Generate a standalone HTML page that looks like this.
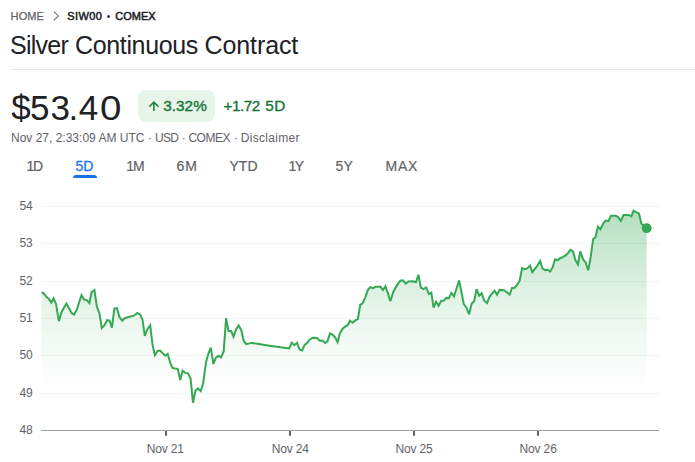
<!DOCTYPE html>
<html><head><meta charset="utf-8">
<style>
html,body{margin:0;padding:0;background:#fff;}
body{width:695px;height:462px;overflow:hidden;position:relative;font-family:"Liberation Sans",sans-serif;color:#202124;}
.abs{position:absolute;white-space:nowrap;}
.price span{position:relative}
.crumb{top:9px;font-size:11px;line-height:14px;color:#5f6368;}
.crumb.b{color:#202124;-webkit-text-stroke:.5px #202124;}
.title{top:29px;font-size:25px;line-height:32px;color:#202124;}
.hr{left:11px;top:69px;width:684px;height:1px;background:#e8eaed;}
.price{left:12px;top:85.6px;font-size:35px;line-height:44px;color:#202124;letter-spacing:.5px}
.pill{left:138px;top:90px;width:77px;height:32px;border-radius:8px;background:#e6f4ea;}
.pct{left:163.2px;letter-spacing:.05px;top:98.1px;font-size:15.3px;line-height:16px;color:#137333;-webkit-text-stroke:.35px #137333;}
.chg{left:224px;letter-spacing:-.15px;top:98.1px;font-size:15.3px;line-height:16px;color:#137333;-webkit-text-stroke:.35px #137333;}
.meta{top:131px;font-size:12px;line-height:14px;color:#5f6368;}
.tab{top:157.6px;font-size:14px;line-height:16px;color:#5f6368;-webkit-text-stroke:.2px #5f6368;}
.ul{left:73px;top:175px;width:24px;height:3px;border-radius:3px 3px 0 0;background:#1a73e8;}
.ylab{left:19.5px;font-size:12px;line-height:14px;color:#5f6368;letter-spacing:-.2px}
.xlab{top:441.6px;width:60px;text-align:center;font-size:12px;line-height:14px;color:#5f6368;letter-spacing:-.15px}
</style></head><body>
<div class="abs crumb" style="left:10.6px;letter-spacing:.1px;-webkit-text-stroke:.25px #5f6368">HOME</div>
<div class="abs crumb b" style="left:67.3px;letter-spacing:.4px">SIW00</div>
<div class="abs crumb b" style="left:106.8px;top:9.8px;font-size:10px;-webkit-text-stroke:0">•</div>
<div class="abs crumb b" style="left:115.3px;letter-spacing:-.02px">COMEX</div>
<div class="abs title" style="left:10px;letter-spacing:-.75px">Silver</div>
<div class="abs title" style="left:75px;letter-spacing:-.35px">Continuous</div>
<div class="abs title" style="left:204.5px;letter-spacing:-.1px">Contract</div>
<div class="abs hr"></div>
<div class="abs price"><span style="left:-.7px">$</span><span style="left:-2px">5</span><span style="left:-1.5px">3</span><span style="left:-3.5px">.</span><span style="left:-3.3px">4</span><span style="left:-1px;display:inline-block;transform:scaleX(1.1)">0</span></div>
<div class="abs pill"></div>
<div class="abs pct">3.32%</div>
<div class="abs chg" style="left:223.5px;letter-spacing:-.5px">+1.72</div>
<div class="abs chg" style="left:265.2px;letter-spacing:.45px">5D</div>
<div class="abs meta" style="left:11px">Nov 27, 2:33:09 AM UTC ·</div>
<div class="abs meta" style="left:155px;letter-spacing:-.7px">USD</div>
<div class="abs meta" style="left:181.8px">·</div>
<div class="abs meta" style="left:188.4px;letter-spacing:-.45px">COMEX</div>
<div class="abs meta" style="left:234px">·</div>
<div class="abs meta" style="left:240.7px;letter-spacing:.32px">Disclaimer</div>
<div class="abs tab" style="left:26.6px;letter-spacing:-1.5px">1D</div>
<div class="abs tab" style="left:75.5px;top:157.9px;color:#1a73e8;-webkit-text-stroke:.3px #1a73e8;letter-spacing:0">5D</div>
<div class="abs ul"></div>
<div class="abs tab" style="left:126.3px;letter-spacing:-1.1px">1M</div>
<div class="abs tab" style="left:176.5px;letter-spacing:1px">6M</div>
<div class="abs tab" style="left:229.5px">YTD</div>
<div class="abs tab" style="left:288.5px;letter-spacing:-1.6px">1Y</div>
<div class="abs tab" style="left:335.5px;letter-spacing:.3px">5Y</div>
<div class="abs tab" style="left:385.5px;letter-spacing:.8px">MAX</div>
<div class="abs ylab" style="top:198.9px">54</div><div class="abs ylab" style="top:235.9px">53</div><div class="abs ylab" style="top:273.9px">52</div><div class="abs ylab" style="top:310.9px">51</div><div class="abs ylab" style="top:347.9px">50</div><div class="abs ylab" style="top:385.9px">49</div><div class="abs ylab" style="top:422.9px">48</div>
<div class="abs xlab" style="left:135.2px">Nov 21</div><div class="abs xlab" style="left:260.2px">Nov 24</div><div class="abs xlab" style="left:384.0px">Nov 25</div><div class="abs xlab" style="left:508.1px">Nov 26</div>
<svg class="abs" style="left:0;top:0" width="695" height="462" viewBox="0 0 695 462">
<defs><linearGradient id="g" gradientUnits="userSpaceOnUse" x1="0" y1="210" x2="0" y2="398">
<stop offset="0" stop-color="#34a853" stop-opacity="0.38"/>
<stop offset="0.13" stop-color="#34a853" stop-opacity="0.305"/>
<stop offset="0.27" stop-color="#34a853" stop-opacity="0.236"/>
<stop offset="0.4" stop-color="#34a853" stop-opacity="0.173"/>
<stop offset="0.53" stop-color="#34a853" stop-opacity="0.118"/>
<stop offset="0.67" stop-color="#34a853" stop-opacity="0.07"/>
<stop offset="0.8" stop-color="#34a853" stop-opacity="0.034"/>
<stop offset="0.93" stop-color="#34a853" stop-opacity="0.01"/>
<stop offset="1" stop-color="#34a853" stop-opacity="0"/>
</linearGradient></defs>
<rect x="41" y="206.0" width="618" height="1" fill="#f3f4f5"/>
<rect x="41" y="243.0" width="618" height="1" fill="#f3f4f5"/>
<rect x="41" y="281.0" width="618" height="1" fill="#f3f4f5"/>
<rect x="41" y="318.0" width="618" height="1" fill="#f3f4f5"/>
<rect x="41" y="355.0" width="618" height="1" fill="#f3f4f5"/>
<rect x="41" y="393.0" width="618" height="1" fill="#f3f4f5"/>
<path d="M41.5,292.4 L43.5,293.1 L46.6,297.1 L48.6,298.6 L51.3,302.6 L53.6,298.4 L56.1,304.2 L58.8,321.1 L61.7,311.7 L64.1,307.4 L66.4,303.5 L69.0,308.3 L71.7,313.2 L74.1,314.7 L76.8,309.7 L79.2,302.3 L81.5,295.1 L84.1,299.6 L86.8,300.1 L89.4,303.1 L91.6,292.1 L94.4,290.1 L96.9,306.7 L99.4,313.2 L101.8,328.0 L104.5,325.2 L107.1,320.2 L109.6,320.7 L111.9,327.7 L114.4,308.6 L116.9,308.1 L119.5,317.1 L122.2,320.7 L124.7,318.2 L134.3,315.4 L137.3,312.9 L140.3,314.6 L142.5,319.7 L144.8,335.8 L147.4,329.2 L150.2,325.2 L152.6,345.1 L154.9,355.2 L157.6,350.9 L160.1,350.6 L162.7,353.2 L165.4,355.7 L167.7,354.0 L170.2,362.7 L172.5,367.8 L175.3,368.6 L177.8,369.1 L180.2,380.1 L182.6,370.8 L185.3,372.9 L188.0,373.3 L190.6,378.6 L193.0,402.8 L195.4,390.7 L198.0,388.4 L200.7,391.2 L203.2,383.1 L206.0,362.2 L208.3,354.0 L210.8,347.7 L213.4,364.0 L215.8,357.8 L218.3,355.8 L221.1,357.3 L223.7,351.2 L226.1,318.1 L228.5,331.1 L231.2,331.1 L233.5,336.6 L236.1,329.1 L238.6,325.4 L241.3,330.1 L243.8,341.2 L246.3,344.2 L251.4,342.9 L269.5,345.7 L289.2,348.5 L291.7,342.7 L294.4,345.2 L297.0,342.7 L299.5,349.5 L302.1,350.5 L304.6,344.9 L307.3,342.7 L309.8,339.4 L312.3,338.0 L314.9,337.7 L317.2,338.2 L319.9,340.7 L322.4,340.5 L325.1,342.9 L327.4,341.5 L330.0,333.5 L332.5,334.7 L335.0,337.2 L337.6,342.3 L339.9,333.3 L342.6,328.7 L345.1,326.5 L347.6,325.2 L350.0,320.7 L352.7,322.7 L355.2,320.4 L357.9,319.1 L360.2,304.9 L362.6,303.3 L365.2,297.6 L367.8,290.1 L370.3,287.1 L372.9,288.1 L375.6,286.8 L380.4,286.8 L383.0,290.1 L385.4,286.3 L387.9,293.4 L390.4,301.3 L393.0,292.7 L395.6,287.6 L398.1,283.6 L400.6,280.6 L403.1,280.6 L405.8,283.6 L408.4,281.4 L413.2,281.3 L415.9,282.3 L418.4,274.8 L420.9,287.6 L423.5,289.1 L426.1,287.4 L428.9,294.1 L431.3,292.6 L433.6,307.7 L436.1,301.7 L438.6,305.7 L441.2,300.7 L443.7,300.7 L446.2,297.9 L448.9,298.2 L451.4,292.9 L454.0,296.4 L456.5,288.5 L459.1,280.5 L461.5,292.3 L463.8,304.2 L466.5,307.7 L469.1,314.3 L471.6,303.7 L474.2,301.0 L476.6,289.1 L479.2,295.7 L481.6,293.4 L484.3,300.7 L487.0,303.0 L489.5,296.8 L492.0,293.7 L494.6,290.7 L497.1,294.8 L499.6,289.9 L504.1,290.2 L509.7,294.5 L512.0,287.9 L514.7,287.7 L517.2,284.7 L519.7,280.7 L522.1,268.1 L524.8,269.1 L527.3,268.4 L530.0,265.6 L532.3,272.1 L537.4,265.6 L540.1,261.0 L542.6,268.6 L545.1,270.1 L547.6,269.8 L550.2,271.6 L552.6,267.4 L555.1,259.2 L557.8,260.2 L560.3,258.0 L562.9,257.2 L565.3,255.7 L567.9,253.2 L570.4,249.8 L573.0,251.4 L575.4,260.0 L578.0,264.4 L580.2,251.3 L583.0,259.2 L585.6,262.5 L588.3,270.3 L590.8,256.2 L593.1,239.2 L595.5,237.2 L597.9,226.7 L600.4,229.2 L603.1,223.7 L605.6,220.6 L608.4,221.2 L611.0,215.8 L615.7,215.8 L618.2,217.1 L620.9,220.8 L623.5,215.1 L628.8,214.9 L631.3,216.3 L633.5,210.6 L636.1,212.1 L638.9,213.4 L641.4,223.7 L646.7,228.0 L646.7,430.3 L41.5,430.3 Z" fill="url(#g)"/>
<path d="M41.5,292.4 L43.5,293.1 L46.6,297.1 L48.6,298.6 L51.3,302.6 L53.6,298.4 L56.1,304.2 L58.8,321.1 L61.7,311.7 L64.1,307.4 L66.4,303.5 L69.0,308.3 L71.7,313.2 L74.1,314.7 L76.8,309.7 L79.2,302.3 L81.5,295.1 L84.1,299.6 L86.8,300.1 L89.4,303.1 L91.6,292.1 L94.4,290.1 L96.9,306.7 L99.4,313.2 L101.8,328.0 L104.5,325.2 L107.1,320.2 L109.6,320.7 L111.9,327.7 L114.4,308.6 L116.9,308.1 L119.5,317.1 L122.2,320.7 L124.7,318.2 L134.3,315.4 L137.3,312.9 L140.3,314.6 L142.5,319.7 L144.8,335.8 L147.4,329.2 L150.2,325.2 L152.6,345.1 L154.9,355.2 L157.6,350.9 L160.1,350.6 L162.7,353.2 L165.4,355.7 L167.7,354.0 L170.2,362.7 L172.5,367.8 L175.3,368.6 L177.8,369.1 L180.2,380.1 L182.6,370.8 L185.3,372.9 L188.0,373.3 L190.6,378.6 L193.0,402.8 L195.4,390.7 L198.0,388.4 L200.7,391.2 L203.2,383.1 L206.0,362.2 L208.3,354.0 L210.8,347.7 L213.4,364.0 L215.8,357.8 L218.3,355.8 L221.1,357.3 L223.7,351.2 L226.1,318.1 L228.5,331.1 L231.2,331.1 L233.5,336.6 L236.1,329.1 L238.6,325.4 L241.3,330.1 L243.8,341.2 L246.3,344.2 L251.4,342.9 L269.5,345.7 L289.2,348.5 L291.7,342.7 L294.4,345.2 L297.0,342.7 L299.5,349.5 L302.1,350.5 L304.6,344.9 L307.3,342.7 L309.8,339.4 L312.3,338.0 L314.9,337.7 L317.2,338.2 L319.9,340.7 L322.4,340.5 L325.1,342.9 L327.4,341.5 L330.0,333.5 L332.5,334.7 L335.0,337.2 L337.6,342.3 L339.9,333.3 L342.6,328.7 L345.1,326.5 L347.6,325.2 L350.0,320.7 L352.7,322.7 L355.2,320.4 L357.9,319.1 L360.2,304.9 L362.6,303.3 L365.2,297.6 L367.8,290.1 L370.3,287.1 L372.9,288.1 L375.6,286.8 L380.4,286.8 L383.0,290.1 L385.4,286.3 L387.9,293.4 L390.4,301.3 L393.0,292.7 L395.6,287.6 L398.1,283.6 L400.6,280.6 L403.1,280.6 L405.8,283.6 L408.4,281.4 L413.2,281.3 L415.9,282.3 L418.4,274.8 L420.9,287.6 L423.5,289.1 L426.1,287.4 L428.9,294.1 L431.3,292.6 L433.6,307.7 L436.1,301.7 L438.6,305.7 L441.2,300.7 L443.7,300.7 L446.2,297.9 L448.9,298.2 L451.4,292.9 L454.0,296.4 L456.5,288.5 L459.1,280.5 L461.5,292.3 L463.8,304.2 L466.5,307.7 L469.1,314.3 L471.6,303.7 L474.2,301.0 L476.6,289.1 L479.2,295.7 L481.6,293.4 L484.3,300.7 L487.0,303.0 L489.5,296.8 L492.0,293.7 L494.6,290.7 L497.1,294.8 L499.6,289.9 L504.1,290.2 L509.7,294.5 L512.0,287.9 L514.7,287.7 L517.2,284.7 L519.7,280.7 L522.1,268.1 L524.8,269.1 L527.3,268.4 L530.0,265.6 L532.3,272.1 L537.4,265.6 L540.1,261.0 L542.6,268.6 L545.1,270.1 L547.6,269.8 L550.2,271.6 L552.6,267.4 L555.1,259.2 L557.8,260.2 L560.3,258.0 L562.9,257.2 L565.3,255.7 L567.9,253.2 L570.4,249.8 L573.0,251.4 L575.4,260.0 L578.0,264.4 L580.2,251.3 L583.0,259.2 L585.6,262.5 L588.3,270.3 L590.8,256.2 L593.1,239.2 L595.5,237.2 L597.9,226.7 L600.4,229.2 L603.1,223.7 L605.6,220.6 L608.4,221.2 L611.0,215.8 L615.7,215.8 L618.2,217.1 L620.9,220.8 L623.5,215.1 L628.8,214.9 L631.3,216.3 L633.5,210.6 L636.1,212.1 L638.9,213.4 L641.4,223.7 L646.7,228.0" fill="none" stroke="#34a853" stroke-width="2" stroke-linejoin="miter" stroke-miterlimit="3" stroke-linecap="butt"/>
<circle cx="646.7" cy="228.2" r="4.9" fill="#34a853"/>
<rect x="41" y="430" width="618" height="1" fill="#9aa0a6"/>
<rect x="165" y="431" width="2" height="4.8" fill="#5f6368"/>
<rect x="289" y="431" width="2" height="4.8" fill="#5f6368"/>
<rect x="413" y="431" width="2" height="4.8" fill="#5f6368"/>
<rect x="537" y="431" width="2" height="4.8" fill="#5f6368"/>
<path d="M53.9,11.5 L58.3,15.9 L53.9,20.3" fill="none" stroke="#80868b" stroke-width="1.25"/>
<path d="M153.9,111 V102.4 M149.3,106.8 L153.9,102.2 L158.5,106.8" fill="none" stroke="#188038" stroke-width="1.55"/>
</svg>
</body></html>
